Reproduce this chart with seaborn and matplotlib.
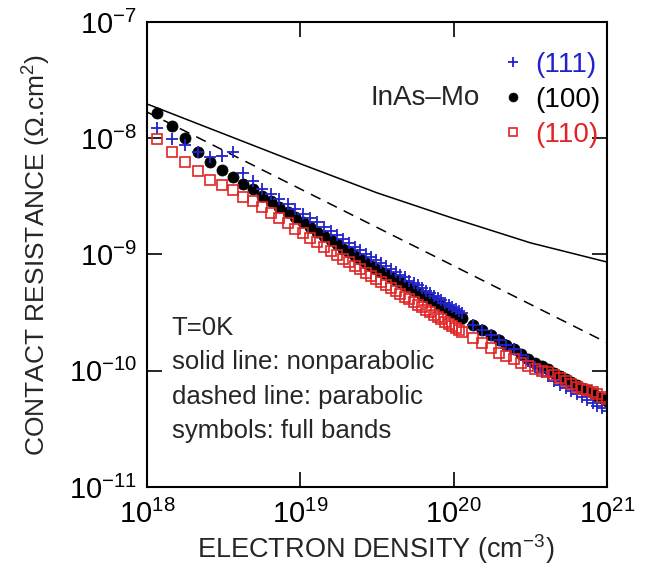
import numpy as np
import pandas as pd
import matplotlib
matplotlib.use('Agg')
import matplotlib.pyplot as plt
import seaborn as sns
from matplotlib.ticker import FixedLocator, NullLocator, LogFormatterMathtext

# electron density of the full-band points (units of 1e18 cm^-3)
density = [1.16, 1.449, 1.782, 2.163, 2.594, 3.079, 3.622, 4.224, 4.890, 5.622,
           6.424, 7.299, 8.250, 9.280, 10.39, 11.59, 12.88, 14.26, 15.73, 17.30,
           18.97, 20.75, 22.64, 24.63, 26.74, 28.97, 31.32, 33.79, 36.39, 39.12,
           41.98, 44.98, 48.11, 51.39, 54.82, 58.39, 62.12, 66.00, 70.04, 74.24,
           78.61, 83.14, 87.85, 92.73, 97.78, 103.0, 108.4, 114.0,
           134.0, 153.1, 173.9, 196.6, 221.1, 247.6, 276.2, 306.8, 339.7, 374.8,
           412.2, 452.1, 494.4, 539.4, 586.9, 637.2, 690.3, 746.2, 805.1, 867.0,
           932.0, 1000.0]

# contact resistance (ohm cm^2), full bands
rc_111 = [1.22e-8, 9.89e-9, 8.75e-9, 7.62e-9, 6.92e-9, 7.08e-9, 7.67e-9, 5.07e-9, 4.27e-9, 3.69e-9,
          3.33e-9, 3.02e-9, 2.72e-9, 2.48e-9, 2.25e-9, 2.07e-9, 1.89e-9, 1.73e-9, 1.59e-9, 1.46e-9,
          1.35e-9, 1.25e-9, 1.16e-9, 1.09e-9, 1.01e-9, 9.51e-10, 8.97e-10, 8.38e-10, 7.93e-10, 7.52e-10,
          7.03e-10, 6.68e-10, 6.35e-10, 5.97e-10, 5.69e-10, 5.43e-10, 5.13e-10, 4.89e-10, 4.63e-10, 4.43e-10,
          4.25e-10, 4.02e-10, 3.85e-10, 3.66e-10, 3.52e-10, 3.38e-10, 3.26e-10, 3.13e-10,
          2.48e-10, 2.24e-10, 2.03e-10, 1.84e-10, 1.67e-10, 1.53e-10, 1.36e-10, 1.21e-10, 1.08e-10, 9.75e-11,
          8.93e-11, 8.18e-11, 7.52e-11, 7.08e-11, 6.67e-11, 6.30e-11, 5.93e-11, 5.60e-11, 5.30e-11, 5.02e-11,
          4.76e-11, 4.52e-11]
rc_100 = [1.65e-8, 1.27e-8, 1.00e-8, 7.67e-9, 6.24e-9, 5.33e-9, 4.68e-9, 4.07e-9, 3.63e-9, 3.21e-9,
          2.86e-9, 2.57e-9, 2.31e-9, 2.08e-9, 1.89e-9, 1.72e-9, 1.57e-9, 1.44e-9, 1.32e-9, 1.22e-9,
          1.12e-9, 1.04e-9, 9.64e-10, 9.06e-10, 8.51e-10, 8.00e-10, 7.55e-10, 7.13e-10, 6.75e-10, 6.40e-10,
          6.05e-10, 5.75e-10, 5.47e-10, 5.20e-10, 4.95e-10, 4.73e-10, 4.52e-10, 4.31e-10, 4.13e-10, 3.94e-10,
          3.78e-10, 3.62e-10, 3.48e-10, 3.34e-10, 3.21e-10, 3.08e-10, 2.97e-10, 2.86e-10,
          2.48e-10, 2.24e-10, 2.03e-10, 1.84e-10, 1.67e-10, 1.53e-10, 1.39e-10, 1.26e-10, 1.17e-10, 1.09e-10,
          1.03e-10, 9.62e-11, 9.04e-11, 8.51e-11, 8.02e-11, 7.57e-11, 7.16e-11, 6.78e-11, 6.43e-11, 6.11e-11,
          5.81e-11, 5.53e-11]
rc_110 = [9.89e-9, 7.66e-9, 6.30e-9, 5.18e-9, 4.37e-9, 3.96e-9, 3.61e-9, 3.13e-9, 2.86e-9, 2.55e-9,
          2.28e-9, 2.05e-9, 1.85e-9, 1.67e-9, 1.52e-9, 1.39e-9, 1.27e-9, 1.17e-9, 1.08e-9, 9.95e-10,
          9.23e-10, 8.55e-10, 7.96e-10, 7.45e-10, 6.97e-10, 6.52e-10, 6.12e-10, 5.75e-10, 5.42e-10, 5.12e-10,
          4.83e-10, 4.57e-10, 4.33e-10, 4.10e-10, 3.89e-10, 3.70e-10, 3.52e-10, 3.34e-10, 3.19e-10, 3.04e-10,
          2.91e-10, 2.77e-10, 2.65e-10, 2.54e-10, 2.44e-10, 2.33e-10, 2.24e-10, 2.15e-10,
          1.91e-10, 1.72e-10, 1.56e-10, 1.43e-10, 1.33e-10, 1.25e-10, 1.17e-10, 1.09e-10, 1.04e-10, 1.00e-10,
          9.68e-11, 9.16e-11, 8.67e-11, 8.15e-11, 7.67e-11, 7.26e-11, 7.01e-11, 6.79e-11, 6.58e-11, 6.28e-11,
          6.00e-11, 5.75e-11]

# model curves
nonpar_density = [1.0, 3.162, 10.0, 31.62, 100.0, 316.2, 1000.0]
rc_nonparabolic = [1.97e-8, 1.09e-8, 6.03e-9, 3.39e-9, 2.04e-9, 1.26e-9, 8.61e-10]
par_density = [1.0, 10.0, 100.0, 1000.0]
rc_parabolic = [1.68e-8, 3.66e-9, 7.98e-10, 1.74e-10]

BLUE = '#2222cc'
RED = '#e02424'

sns.set_style('ticks')
plt.rcParams['font.family'] = ['Liberation Sans', 'DejaVu Sans']
plt.rcParams['mathtext.fontset'] = 'custom'
plt.rcParams['mathtext.rm'] = 'Liberation Sans'
plt.rcParams['mathtext.it'] = 'Liberation Sans:italic'
plt.rcParams['mathtext.default'] = 'regular'

df = pd.DataFrame({'n': np.array(density) * 1e18,
                   '111': rc_111, '100': rc_100, '110': rc_110})

fig = plt.figure(figsize=(6.46, 5.66), dpi=100)
ax = fig.add_axes([0.2276, 0.1396, 0.712, 0.8216])
ax.set_xscale('log')
ax.set_yscale('log')

sns.lineplot(x=np.array(nonpar_density) * 1e18, y=rc_nonparabolic, ax=ax,
             color='black', lw=1.1, estimator=None, sort=False)
sns.lineplot(x=np.array(par_density) * 1e18, y=rc_parabolic, ax=ax,
             color='black', lw=1.1, linestyle=(0, (7, 5)), estimator=None, sort=False)

sns.lineplot(data=df, x='n', y='100', ax=ax, estimator=None, sort=False,
             linestyle='none', marker='o', markersize=8, color='black',
             markeredgecolor='black', markeredgewidth=0.5, label='(100)')
sns.lineplot(data=df, x='n', y='111', ax=ax, estimator=None, sort=False,
             linestyle='none', marker='+', markersize=9, color=BLUE,
             markeredgecolor=BLUE, markeredgewidth=1.3, label='(111)')
sns.lineplot(data=df, x='n', y='110', ax=ax, estimator=None, sort=False,
             linestyle='none', marker='s', markersize=7.5, color=RED,
             markerfacecolor='none', markeredgecolor=RED, markeredgewidth=1.2,
             label='(110)')

ax.set_xlim(1e18, 1e21)
ax.set_ylim(1e-11, 1e-7)
ax.xaxis.set_major_locator(FixedLocator([1e18, 1e19, 1e20, 1e21]))
ax.yaxis.set_major_locator(FixedLocator([1e-11, 1e-10, 1e-9, 1e-8, 1e-7]))
ax.xaxis.set_minor_locator(NullLocator())
ax.yaxis.set_minor_locator(NullLocator())
ax.xaxis.set_major_formatter(LogFormatterMathtext())
ax.yaxis.set_major_formatter(LogFormatterMathtext())
ax.tick_params(which='major', direction='in', length=11, width=1.2,
               top=True, right=True, labelsize=21, colors='black')
ax.tick_params(axis='x', pad=9)
ax.tick_params(axis='y', pad=7)
for sp in ax.spines.values():
    sp.set_linewidth(1.5)
    sp.set_color('black')

ax.set_xlabel('ELECTRON DENSITY (cm$^{-3}$)', fontsize=19.5)
ax.set_ylabel('CONTACT RESISTANCE (\u03a9.cm$^{2}$)', fontsize=19)
ax.xaxis.set_label_coords(0.498, -0.097)
ax.yaxis.set_label_coords(-0.205, 0.5)

handles, labels = ax.get_legend_handles_labels()
order = [labels.index('(111)'), labels.index('(100)'), labels.index('(110)')]
ax.legend([handles[i] for i in order], [labels[i] for i in order],
          loc='upper right', bbox_to_anchor=(0.985, 0.936), frameon=False,
          fontsize=20, handlelength=0.9, handletextpad=0.35, labelspacing=0.33,
          borderpad=0, borderaxespad=0, markerscale=0.8,
          labelcolor=[BLUE, 'black', RED])
ax.text(0.724, 0.837, 'InAs\u2013Mo', transform=ax.transAxes, ha='right',
        va='center', fontsize=20)

notes = ['T=0K', 'solid line: nonparabolic', 'dashed line: parabolic',
         'symbols: full bands']
for i, s in enumerate(notes):
    ax.text(0.054, 0.327 - 0.074 * i, s, transform=ax.transAxes,
            ha='left', va='baseline', fontsize=18.5)

fig.savefig('out.png', dpi=100, facecolor='white')
